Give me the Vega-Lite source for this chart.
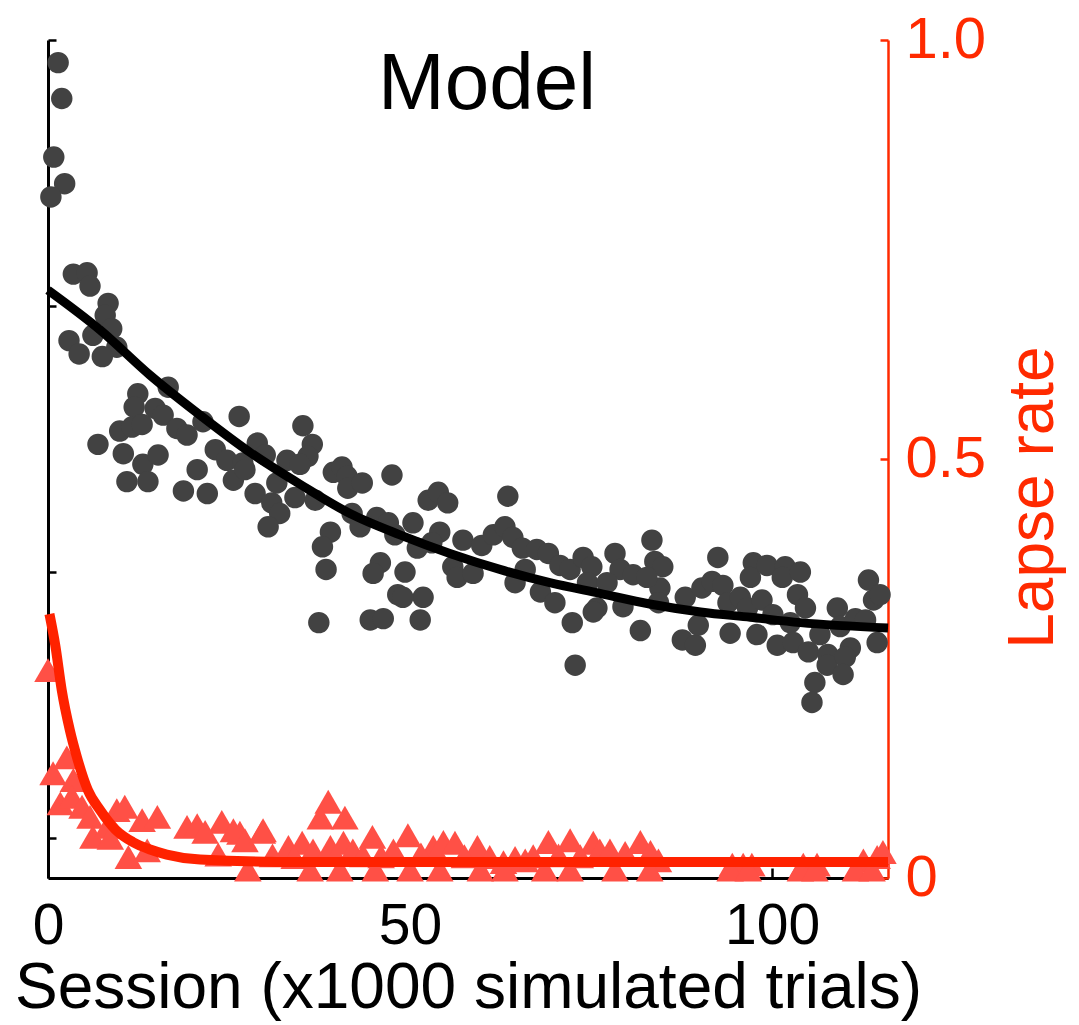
{
  "$schema": "https://vega.github.io/schema/vega-lite/v6.json",
  "width": 840,
  "height": 838,
  "autosize": "none",
  "padding": {"left": 48, "top": 40, "right": 191, "bottom": 147},
  "background": "white",
  "config": {
    "view": {"stroke": null},
    "font": "Liberation Sans"
  },
  "title": {
    "text": "Model",
    "font": "Liberation Sans",
    "fontSize": 80,
    "fontWeight": "normal",
    "color": "#000000",
    "anchor": "middle",
    "frame": "group",
    "baseline": "alphabetic",
    "offset": 0,
    "dx": 19,
    "dy": 178
  },
  "datasets": {
    "dots": [
      {"session": 1.4, "value": 0.783}, {"session": 1.9, "value": 0.756}, {"session": 0.8, "value": 0.712}, {"session": 2.3, "value": 0.692}, {"session": 0.4, "value": 0.682},
      {"session": 3.5, "value": 0.624}, {"session": 5.4, "value": 0.625}, {"session": 5.8, "value": 0.615}, {"session": 8.3, "value": 0.602}, {"session": 7.9, "value": 0.593},
      {"session": 8.8, "value": 0.583}, {"session": 6.2, "value": 0.578}, {"session": 9.5, "value": 0.569}, {"session": 2.9, "value": 0.574}, {"session": 4.3, "value": 0.564},
      {"session": 7.5, "value": 0.562}, {"session": 16.6, "value": 0.539}, {"session": 12.4, "value": 0.534}, {"session": 11.9, "value": 0.524}, {"session": 14.8, "value": 0.523},
      {"session": 15.9, "value": 0.518}, {"session": 26.4, "value": 0.517}, {"session": 9.9, "value": 0.506}, {"session": 11.6, "value": 0.509}, {"session": 13.0, "value": 0.511},
      {"session": 17.8, "value": 0.508}, {"session": 19.2, "value": 0.503}, {"session": 21.4, "value": 0.513}, {"session": 6.9, "value": 0.496}, {"session": 10.4, "value": 0.489},
      {"session": 13.1, "value": 0.481}, {"session": 15.2, "value": 0.488}, {"session": 20.6, "value": 0.477}, {"session": 23.1, "value": 0.492}, {"session": 24.7, "value": 0.484},
      {"session": 26.9, "value": 0.482}, {"session": 28.9, "value": 0.497}, {"session": 25.6, "value": 0.469}, {"session": 27.2, "value": 0.477}, {"session": 10.9, "value": 0.468},
      {"session": 13.8, "value": 0.468}, {"session": 18.7, "value": 0.461}, {"session": 22.0, "value": 0.459}, {"session": 28.6, "value": 0.459}, {"session": 35.2, "value": 0.510},
      {"session": 36.5, "value": 0.496}, {"session": 35.9, "value": 0.487}, {"session": 30.0, "value": 0.488}, {"session": 33.0, "value": 0.484}, {"session": 34.8, "value": 0.481},
      {"session": 31.6, "value": 0.467}, {"session": 30.9, "value": 0.452}, {"session": 32.0, "value": 0.444}, {"session": 30.4, "value": 0.434}, {"session": 34.1, "value": 0.456},
      {"session": 36.9, "value": 0.454}, {"session": 39.4, "value": 0.475}, {"session": 40.6, "value": 0.479}, {"session": 41.3, "value": 0.472}, {"session": 41.4, "value": 0.463},
      {"session": 43.4, "value": 0.467}, {"session": 47.5, "value": 0.473}, {"session": 42.0, "value": 0.444}, {"session": 43.1, "value": 0.434}, {"session": 45.4, "value": 0.441},
      {"session": 47.0, "value": 0.437}, {"session": 47.9, "value": 0.428}, {"session": 50.4, "value": 0.437}, {"session": 52.5, "value": 0.454}, {"session": 53.9, "value": 0.460},
      {"session": 55.2, "value": 0.452}, {"session": 54.1, "value": 0.430}, {"session": 53.0, "value": 0.422}, {"session": 51.0, "value": 0.418}, {"session": 57.3, "value": 0.424},
      {"session": 55.9, "value": 0.404}, {"session": 56.5, "value": 0.396}, {"session": 39.0, "value": 0.430}, {"session": 37.9, "value": 0.419}, {"session": 38.4, "value": 0.402},
      {"session": 45.9, "value": 0.407}, {"session": 44.9, "value": 0.399}, {"session": 49.3, "value": 0.400}, {"session": 48.3, "value": 0.383}, {"session": 51.8, "value": 0.381},
      {"session": 49.0, "value": 0.381}, {"session": 37.4, "value": 0.362}, {"session": 44.5, "value": 0.364}, {"session": 46.3, "value": 0.365}, {"session": 51.4, "value": 0.364},
      {"session": 63.5, "value": 0.457}, {"session": 59.9, "value": 0.420}, {"session": 61.5, "value": 0.428}, {"session": 63.1, "value": 0.434}, {"session": 64.2, "value": 0.426},
      {"session": 65.5, "value": 0.418}, {"session": 67.5, "value": 0.417}, {"session": 69.1, "value": 0.414}, {"session": 70.7, "value": 0.405}, {"session": 72.1, "value": 0.402},
      {"session": 73.9, "value": 0.411}, {"session": 75.1, "value": 0.404}, {"session": 78.3, "value": 0.414}, {"session": 79.0, "value": 0.402}, {"session": 80.8, "value": 0.398},
      {"session": 83.4, "value": 0.424}, {"session": 83.8, "value": 0.408}, {"session": 84.9, "value": 0.404}, {"session": 58.7, "value": 0.399}, {"session": 64.5, "value": 0.392},
      {"session": 65.9, "value": 0.402}, {"session": 68.0, "value": 0.385}, {"session": 70.0, "value": 0.377}, {"session": 74.5, "value": 0.392}, {"session": 77.2, "value": 0.392},
      {"session": 75.8, "value": 0.373}, {"session": 75.3, "value": 0.370}, {"session": 79.4, "value": 0.374}, {"session": 84.5, "value": 0.388}, {"session": 84.3, "value": 0.377},
      {"session": 72.4, "value": 0.362}, {"session": 81.8, "value": 0.356}, {"session": 72.8, "value": 0.330}, {"session": 82.7, "value": 0.396}, {"session": 87.6, "value": 0.349},
      {"session": 89.4, "value": 0.345}, {"session": 89.8, "value": 0.360}, {"session": 88.0, "value": 0.381}, {"session": 90.3, "value": 0.388}, {"session": 91.7, "value": 0.393},
      {"session": 92.5, "value": 0.411}, {"session": 93.2, "value": 0.390}, {"session": 93.9, "value": 0.377}, {"session": 95.6, "value": 0.381}, {"session": 96.6, "value": 0.373},
      {"session": 94.2, "value": 0.354}, {"session": 97.4, "value": 0.407}, {"session": 97.0, "value": 0.396}, {"session": 99.3, "value": 0.405}, {"session": 98.6, "value": 0.379},
      {"session": 100.1, "value": 0.368}, {"session": 97.9, "value": 0.353}, {"session": 101.8, "value": 0.404}, {"session": 101.4, "value": 0.396}, {"session": 103.9, "value": 0.400},
      {"session": 103.5, "value": 0.383}, {"session": 104.6, "value": 0.373}, {"session": 102.5, "value": 0.362}, {"session": 100.7, "value": 0.345}, {"session": 102.9, "value": 0.347},
      {"session": 105.0, "value": 0.340}, {"session": 106.6, "value": 0.353}, {"session": 107.7, "value": 0.338}, {"session": 107.6, "value": 0.330}, {"session": 109.0, "value": 0.373},
      {"session": 109.4, "value": 0.359}, {"session": 110.8, "value": 0.343}, {"session": 110.1, "value": 0.336}, {"session": 109.8, "value": 0.323}, {"session": 111.5, "value": 0.365},
      {"session": 112.9, "value": 0.364}, {"session": 113.3, "value": 0.394}, {"session": 114.0, "value": 0.379}, {"session": 114.9, "value": 0.383}, {"session": 114.5, "value": 0.347},
      {"session": 105.9, "value": 0.317}, {"session": 105.5, "value": 0.302}
    ],
    "fitL": [
      {"session": 0, "value": 0.612}, {"session": 7.2, "value": 0.582}, {"session": 14.1, "value": 0.548}, {"session": 21.0, "value": 0.518},
      {"session": 27.9, "value": 0.490}, {"session": 34.8, "value": 0.466}, {"session": 41.7, "value": 0.444}, {"session": 48.6, "value": 0.428},
      {"session": 55.5, "value": 0.414}, {"session": 62.4, "value": 0.402}, {"session": 69.3, "value": 0.392}, {"session": 76.2, "value": 0.384},
      {"session": 83.1, "value": 0.376}, {"session": 90.1, "value": 0.370}, {"session": 97.0, "value": 0.366}, {"session": 103.9, "value": 0.362},
      {"session": 116, "value": 0.358}
    ],
    "lapse": [
      {"session": 0, "lapse": 0.248}, {"session": 2.6, "lapse": 0.144}, {"session": 0.7, "lapse": 0.125}, {"session": 3.5, "lapse": 0.117},
      {"session": 1.7, "lapse": 0.089}, {"session": 3.3, "lapse": 0.097}, {"session": 4.7, "lapse": 0.085}, {"session": 5.8, "lapse": 0.073},
      {"session": 6.2, "lapse": 0.049}, {"session": 8.2, "lapse": 0.061}, {"session": 8.6, "lapse": 0.048}, {"session": 9.5, "lapse": 0.081},
      {"session": 10.6, "lapse": 0.085}, {"session": 11.1, "lapse": 0.025}, {"session": 13.0, "lapse": 0.069}, {"session": 15.1, "lapse": 0.073},
      {"session": 13.7, "lapse": 0.033}, {"session": 19.2, "lapse": 0.061}, {"session": 20.6, "lapse": 0.063}, {"session": 24.0, "lapse": 0.067},
      {"session": 26.5, "lapse": 0.054}, {"session": 29.7, "lapse": 0.057}, {"session": 21.7, "lapse": 0.055}, {"session": 25.6, "lapse": 0.057},
      {"session": 27.2, "lapse": 0.045}, {"session": 29.6, "lapse": 0.055}, {"session": 33.2, "lapse": 0.037}, {"session": 35.1, "lapse": 0.042},
      {"session": 36.6, "lapse": 0.033}, {"session": 38.7, "lapse": 0.091}, {"session": 37.6, "lapse": 0.072}, {"session": 41.0, "lapse": 0.072},
      {"session": 39.0, "lapse": 0.037}, {"session": 40.8, "lapse": 0.042}, {"session": 42.1, "lapse": 0.033}, {"session": 44.8, "lapse": 0.049},
      {"session": 47.7, "lapse": 0.033}, {"session": 49.7, "lapse": 0.051}, {"session": 53.2, "lapse": 0.037}, {"session": 54.6, "lapse": 0.043},
      {"session": 56.2, "lapse": 0.042}, {"session": 59.3, "lapse": 0.037}, {"session": 62.9, "lapse": 0.019}, {"session": 65.9, "lapse": 0.021},
      {"session": 69.1, "lapse": 0.043}, {"session": 72.1, "lapse": 0.045}, {"session": 75.3, "lapse": 0.042}, {"session": 76.2, "lapse": 0.033},
      {"session": 77.6, "lapse": 0.033}, {"session": 79.7, "lapse": 0.030}, {"session": 81.8, "lapse": 0.043}, {"session": 83.2, "lapse": 0.031},
      {"session": 84.3, "lapse": 0.021}, {"session": 94.5, "lapse": 0.016}, {"session": 96.0, "lapse": 0.016}, {"session": 97.2, "lapse": 0.016},
      {"session": 104.3, "lapse": 0.016}, {"session": 106.2, "lapse": 0.016}, {"session": 112.6, "lapse": 0.021}, {"session": 114.5, "lapse": 0.025},
      {"session": 115.3, "lapse": 0.031},
      {"session": 23.5, "lapse": 0.028}, {"session": 31.0, "lapse": 0.027}, {"session": 34.0, "lapse": 0.025}, {"session": 43.5, "lapse": 0.027},
      {"session": 46.0, "lapse": 0.026}, {"session": 51.5, "lapse": 0.028}, {"session": 57.5, "lapse": 0.026}, {"session": 61.0, "lapse": 0.025},
      {"session": 64.5, "lapse": 0.024}, {"session": 67.0, "lapse": 0.026}, {"session": 70.5, "lapse": 0.027}, {"session": 73.5, "lapse": 0.026},
      {"session": 27.6, "lapse": 0.01}, {"session": 36.2, "lapse": 0.01}, {"session": 40.3, "lapse": 0.01}, {"session": 45.2, "lapse": 0.01},
      {"session": 50.0, "lapse": 0.01}, {"session": 54.1, "lapse": 0.01}, {"session": 59.7, "lapse": 0.01}, {"session": 63.1, "lapse": 0.01},
      {"session": 68.6, "lapse": 0.01}, {"session": 72.1, "lapse": 0.01}, {"session": 78.3, "lapse": 0.01}, {"session": 83.1, "lapse": 0.01},
      {"session": 94.2, "lapse": 0.01}, {"session": 96.7, "lapse": 0.01}, {"session": 103.9, "lapse": 0.01}, {"session": 105.9, "lapse": 0.01},
      {"session": 111.5, "lapse": 0.01}, {"session": 113.8, "lapse": 0.01}
    ],
    "fitR": [
      {"session": 0.2, "lapse": 0.315}, {"session": 1.0, "lapse": 0.278}, {"session": 1.9, "lapse": 0.224}, {"session": 3.0, "lapse": 0.177},
      {"session": 4.0, "lapse": 0.144}, {"session": 5.5, "lapse": 0.105}, {"session": 7.2, "lapse": 0.081}, {"session": 9.3, "lapse": 0.058},
      {"session": 11.7, "lapse": 0.043}, {"session": 14.1, "lapse": 0.034}, {"session": 16.4, "lapse": 0.028}, {"session": 21.0, "lapse": 0.022},
      {"session": 34.8, "lapse": 0.019}, {"session": 116, "lapse": 0.019}
    ]
  },
  "encoding": {
    "x": {
      "field": "session",
      "type": "quantitative",
      "scale": {"domain": [0, 116], "nice": false, "zero": false},
      "axis": {
        "values": [0, 50, 100],
        "grid": false,
        "domainColor": "#000000",
        "domainWidth": 3,
        "tickColor": "#000000",
        "tickWidth": 2.5,
        "tickSize": -10,
        "labelFont": "Liberation Sans",
        "labelFontSize": 57,
        "labelColor": "#000000",
        "labelBaseline": "alphabetic",
        "labelPadding": 75,
        "labelFlush": false,
        "title": "Session (x1000 simulated trials)",
        "titleFont": "Liberation Sans",
        "titleFontSize": 64,
        "titleFontWeight": "normal",
        "titleColor": "#000000",
        "titleBaseline": "alphabetic",
        "titleY": 129
      }
    }
  },
  "layer": [
    {
      "layer": [
        {
          "data": {"name": "dots"},
          "mark": {"type": "point", "shape": "circle", "filled": true, "size": 460, "color": "#424242", "opacity": 1, "strokeWidth": 0},
          "encoding": {
            "y": {
              "field": "value",
              "type": "quantitative",
              "scale": {"domain": [0.17, 0.8], "nice": false, "zero": false},
              "axis": {
                "orient": "left",
                "values": [0.2, 0.4, 0.6, 0.8],
                "labels": false,
                "title": null,
                "grid": false,
                "domainColor": "#000000",
                "domainWidth": 3,
                "tickColor": "#000000",
                "tickWidth": 2.5,
                "tickSize": -8
              }
            }
          }
        },
        {
          "data": {"name": "fitL"},
          "mark": {"type": "line", "color": "#000000", "strokeWidth": 9, "interpolate": "monotone"},
          "encoding": {
            "y": {"field": "value", "type": "quantitative"}
          }
        }
      ]
    },
    {
      "layer": [
        {
          "data": {"name": "lapse"},
          "mark": {"type": "point", "shape": "triangle-up", "filled": true, "size": 760, "color": "#ff5046", "opacity": 1, "strokeWidth": 0},
          "encoding": {
            "y": {
              "field": "lapse",
              "type": "quantitative",
              "scale": {"domain": [0, 1], "nice": false, "zero": false},
              "axis": {
                "orient": "right",
                "values": [0, 0.5, 1],
                "labelExpr": "datum.value == 0 ? '0' : format(datum.value, '.1f')",
                "grid": false,
                "domainColor": "#ff2a00",
                "domainWidth": 2.5,
                "tickColor": "#ff2a00",
                "tickWidth": 2.5,
                "tickSize": -8,
                "labelFont": "Liberation Sans",
                "labelFontSize": 58,
                "labelColor": "#ff2a00",
                "labelPadding": 25,
                "labelFlush": false,
                "labelBaseline": "middle",
                "title": "Lapse rate",
                "titleFont": "Liberation Sans",
                "titleFontSize": 64,
                "titleFontWeight": "normal",
                "titleColor": "#ff2a00",
                "titleAngle": 270,
                "titleAlign": "center",
                "titleBaseline": "middle",
                "titleX": 145,
                "titleY": 457
              }
            }
          }
        },
        {
          "data": {"name": "fitR"},
          "mark": {"type": "line", "color": "#ff2200", "strokeWidth": 10, "interpolate": "monotone"},
          "encoding": {
            "y": {"field": "lapse", "type": "quantitative"}
          }
        }
      ]
    }
  ],
  "resolve": {"scale": {"y": "independent"}}
}
